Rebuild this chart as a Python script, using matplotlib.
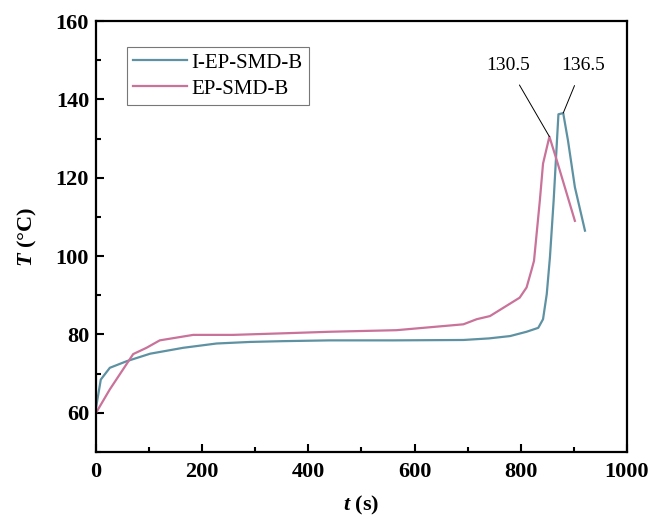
import matplotlib
matplotlib.use("Agg")
import matplotlib.pyplot as plt
from matplotlib.ticker import MultipleLocator

plt.rcParams['font.family'] = ['Liberation Serif', 'DejaVu Serif']
plt.rcParams['mathtext.fontset'] = 'custom'
plt.rcParams['mathtext.rm'] = 'Liberation Serif:bold'
plt.rcParams['mathtext.it'] = 'Liberation Serif:italic:bold'
plt.rcParams['mathtext.bf'] = 'Liberation Serif:bold'
plt.rcParams['mathtext.bfit'] = 'Liberation Serif:italic:bold'

# I-EP-SMD-B
t_blue = [0, 9, 26, 58, 102, 164, 227, 290, 352, 440, 560, 692, 740, 780, 811, 833, 842, 849, 855,
          862, 871, 880, 889, 902, 921]
T_blue = [61.3, 68.5, 71.5, 73.2, 75.1, 76.6, 77.7, 78.1, 78.3, 78.5, 78.5, 78.6, 79.0, 79.6, 80.7, 81.7,
          83.9, 90.3, 99.7, 114.2, 136.2, 136.5, 129.5, 117.6, 106.5]

# EP-SMD-B
t_pink = [0, 26, 70, 95, 120, 183, 258, 352, 441, 566, 692, 717, 742, 773, 798, 811, 820, 825, 836,
          842, 854, 868, 902]
T_pink = [60.0, 66.0, 75.0, 76.6, 78.5, 79.9, 79.9, 80.3, 80.7, 81.1, 82.6, 83.9, 84.7, 87.3, 89.4,
          92.0, 96.3, 98.8, 114.2, 123.6, 130.5, 124.4, 109.0]

series_labels = ['I-EP-SMD-B', 'EP-SMD-B']
peak_labels = ['130.5', '136.5']

fig = plt.figure(figsize=(6.51, 5.19), dpi=100)
ax = fig.add_axes([0.1475, 0.129, 0.8155, 0.8305])

c_blue = '#5e92a2'
c_pink = '#c9729a'
ax.plot(t_blue, T_blue, color=c_blue, lw=1.6, label=series_labels[0])
ax.plot(t_pink, T_pink, color=c_pink, lw=1.6, label=series_labels[1])

ax.set_xlim(0, 1000)
ax.set_ylim(50, 160)
ax.xaxis.set_major_locator(MultipleLocator(200))
ax.xaxis.set_minor_locator(MultipleLocator(100))
ax.yaxis.set_major_locator(MultipleLocator(20))
ax.yaxis.set_minor_locator(MultipleLocator(10))
ax.tick_params(which='both', direction='in', top=False, right=False, width=1.5)
ax.tick_params(which='major', length=6, labelsize=16)
ax.tick_params(axis='x', which='major', pad=7)
ax.tick_params(axis='y', which='major', pad=5)
ax.tick_params(which='minor', length=3.5)
for lab in ax.get_xticklabels() + ax.get_yticklabels():
    lab.set_fontweight('bold')
for sp in ax.spines.values():
    sp.set_linewidth(1.6)

ax.set_xlabel(r'$\mathbfit{t}$ (s)', fontsize=16, fontweight='bold', labelpad=9)
ax.set_ylabel(r'$\mathbfit{T}$ (°C)', fontsize=16, fontweight='bold', labelpad=12)

leg = ax.legend(loc='upper left', bbox_to_anchor=(0.058, 0.94), fontsize=15, frameon=True,
                fancybox=False, edgecolor='#555555', handlelength=2.6, handletextpad=0.2,
                borderpad=0.3, labelspacing=0.3, borderaxespad=0)
leg.get_frame().set_linewidth(0.8)

ax.annotate(peak_labels[0], xy=(t_pink[20], T_pink[20]), xytext=(776, 148.7), fontsize=14,
            ha='center', va='center',
            arrowprops=dict(arrowstyle='-', color='black', lw=0.7, shrinkA=7, shrinkB=0))
ax.annotate(peak_labels[1], xy=(t_blue[21], T_blue[21]), xytext=(917, 148.7), fontsize=14,
            ha='center', va='center',
            arrowprops=dict(arrowstyle='-', color='black', lw=0.7, shrinkA=7, shrinkB=0))

fig.savefig('out.png', dpi=100)
